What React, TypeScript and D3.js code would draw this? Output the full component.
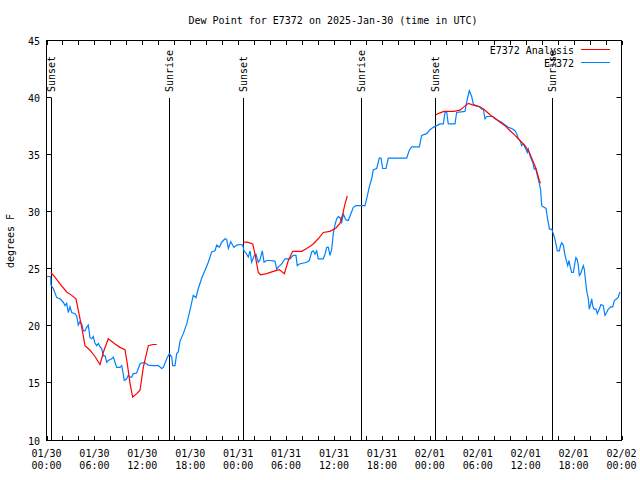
import React from "react";
import * as d3 from "d3";

// Hours since 2025-01-30 00:00 UTC
const xTickHours = [0, 6, 12, 18, 24, 30, 36, 42, 48, 54, 60, 66, 72];
const xTickDates = ["01/30", "01/30", "01/30", "01/30", "01/31", "01/31", "01/31", "01/31", "02/01", "02/01", "02/01", "02/01", "02/02"];
const xTickTimes = ["00:00", "06:00", "12:00", "18:00", "00:00", "06:00", "12:00", "18:00", "00:00", "06:00", "12:00", "18:00", "00:00"];
const yTicks = [10, 15, 20, 25, 30, 35, 40, 45];

const sunsetHours = [0.53, 24.64, 48.69];
const sunriseHours = [15.38, 39.34, 63.34];

// Analysis (red), three separate segments
const analysisSeg1: [number, number][] = [
  [0.53, 24.7], [1.06, 24.3], [1.69, 23.7], [2.53, 23.0], [3.16, 22.7], [3.69, 22.4],
  [3.98, 21.4], [4.41, 19.9], [4.82, 18.3], [5.45, 17.9], [6.07, 17.35], [6.7, 16.65],
  [7.2, 17.9], [7.74, 18.9], [8.58, 18.45], [9.2, 18.15], [9.83, 17.95], [10.12, 16.7],
  [10.46, 15.0], [10.79, 13.8], [11.3, 14.1], [11.71, 14.4], [12.12, 16.4], [12.75, 18.3],
  [13.3, 18.4], [13.8, 18.4],
];
const analysisSeg2: [number, number][] = [
  [24.64, 27.35], [25.14, 27.35], [25.82, 27.2], [26.11, 26.3], [26.52, 24.7], [26.82, 24.5],
  [27.57, 24.6], [28.4, 24.8], [29.15, 24.95], [29.78, 24.6], [30.28, 25.75], [30.83, 26.55],
  [31.96, 26.55], [32.58, 26.8], [33.33, 27.15], [34.03, 27.65], [34.66, 28.2], [35.5, 28.3],
  [36.25, 28.6], [36.75, 29.0], [37.09, 29.8], [37.38, 30.7], [37.67, 31.4],
];
const analysisSeg3: [number, number][] = [
  [48.77, 38.5], [49.19, 38.65], [49.77, 38.8], [51.03, 38.8], [51.78, 38.9], [52.19, 39.15],
  [52.82, 39.5], [53.44, 39.35], [54.28, 39.2], [54.91, 38.9], [55.53, 38.5], [56.16, 38.2],
  [56.79, 37.85], [57.41, 37.55], [58.04, 37.1], [58.67, 36.7], [59.29, 36.25], [59.92, 35.8],
  [60.46, 35.2], [60.88, 34.5], [61.29, 33.8], [61.71, 32.75], [61.86, 32.5],
];

// Observations (blue)
const obsHours = [
  0.03, 0.53, 0.56, 0.85, 1.28, 1.69, 2.1, 2.32, 2.53, 2.73, 2.94, 3.16, 3.57, 3.78, 3.98, 4.19,
  4.41, 4.61, 4.82, 5.03, 5.23, 5.45, 5.66, 5.86, 6.07, 6.29, 6.49, 6.7, 6.91, 7.11, 7.33, 7.54,
  7.74, 8.16, 8.36, 8.58, 8.79, 9.2, 9.42, 9.54, 9.74, 10.04, 10.24, 10.46, 10.67, 10.87, 11.29,
  11.71, 11.92, 12.33, 12.75, 13.37, 14.0, 14.43, 14.63, 15.05, 15.38, 15.68, 15.8, 16.09, 16.3,
  16.5, 16.72, 17.13, 17.56, 17.97, 18.38, 18.72, 19.01, 19.43, 19.85, 20.26, 20.69, 21.1, 21.31,
  21.64, 21.94, 22.35, 22.56, 22.77, 23.07, 23.23, 23.48, 23.82, 24.23, 24.57, 24.73, 24.98, 25.27,
  25.48, 25.69, 26.02, 26.23, 26.52, 26.73, 27.02, 27.24, 27.57, 27.99, 28.61, 28.83, 29.03, 29.45,
  29.87, 30.49, 30.9, 31.24, 31.4, 31.66, 32.58, 32.91, 33.21, 33.41, 33.62, 33.83, 34.03, 34.66,
  34.87, 35.09, 35.29, 35.5, 35.71, 35.91, 36.13, 36.34, 36.54, 36.75, 36.96, 37.17, 37.5, 37.79,
  38.09, 38.42, 38.76, 39.88, 40.09, 40.42, 40.72, 40.92, 41.35, 41.67, 41.89, 42.1, 42.51, 42.8,
  45.1, 45.43, 45.73, 46.68, 46.98, 47.61, 48.02, 48.43, 48.86, 49.27, 49.69, 49.9, 50.11, 50.31,
  51.15, 51.36, 52.4, 52.61, 52.94, 53.24, 53.44, 53.78, 54.19, 54.5, 54.7, 54.91, 55.12, 55.87,
  56.16, 56.57, 57.0, 57.41, 57.83, 58.25, 58.67, 58.88, 59.08, 59.29, 59.5, 59.7, 59.92, 60.21,
  60.33, 60.54, 60.88, 61.08, 61.26, 61.51, 61.67, 61.79, 61.88, 62.01, 62.3, 62.55, 62.71, 62.93,
  62.96, 63.26, 63.46, 63.67, 63.88, 63.96, 64.21, 64.38, 64.51, 64.71, 64.93, 65.14, 65.26, 65.43,
  65.55, 65.76, 65.97, 66.18, 66.3, 66.47, 66.59, 66.72, 66.89, 67.02, 67.22, 67.34, 67.52, 67.64,
  67.84, 67.97, 68.14, 68.27, 68.39, 68.56, 68.81, 68.97, 69.22, 69.43, 69.72, 69.93, 70.14, 70.35,
  70.65, 70.9, 71.1, 71.4, 71.6, 71.73, 71.82,
];
const obsDew = [
  24.35, 24.35, 23.6, 23.3, 22.5, 22.4, 22.1, 21.8, 22.0, 21.2, 21.7, 21.2, 21.1, 20.9, 20.1, 20.4,
  20.2, 19.6, 19.6, 19.9, 20.1, 19.0, 18.9, 19.1, 18.5, 18.3, 18.5, 18.2, 18.05, 17.4, 17.4, 16.85,
  17.0, 17.15, 17.3, 16.85, 16.4, 16.4, 16.55, 16.1, 15.25, 15.4, 15.7, 15.55, 15.55, 15.85, 15.9,
  16.7, 16.8, 16.8, 16.6, 16.55, 16.55, 16.3, 16.4, 17.15, 17.6, 17.3, 16.55, 16.55, 17.6,
  17.75, 18.7, 19.35, 20.2, 21.4, 22.7, 22.5, 23.3, 24.2, 24.9, 25.6, 26.5, 26.6, 27.1,
  26.9, 27.35, 27.65, 27.6, 26.8, 27.4, 27.2, 26.9, 27.1, 27.15, 27.1, 26.6, 26.4, 26.05,
  26.6, 25.6, 26.2, 26.3, 25.6, 25.8, 26.6, 25.6, 25.75, 25.75, 25.7, 25.0, 25.2, 25.45,
  25.9, 25.9, 26.2, 26.2, 25.3, 25.45, 25.6, 25.75, 26.5, 26.6, 26.3, 26.6, 25.9, 25.9,
  26.3, 26.9, 26.9, 26.2, 26.7, 28.1, 28.9, 29.4, 29.6, 29.5, 29.1, 29.8, 29.3, 29.25,
  29.8, 30.4, 30.55, 30.55, 31.15, 32.2, 32.9, 33.7, 33.8, 34.7, 34.7, 33.8, 33.8, 34.7,
  34.7, 35.4, 35.7, 35.7, 36.7, 36.85, 37.2, 37.4, 37.55, 37.7, 37.7, 38.7, 38.75, 37.7,
  37.7, 38.7, 38.8, 39.6, 40.6, 40.1, 39.45, 39.3, 39.2, 39.0, 39.0, 38.15, 38.35, 38.35,
  38.15, 38.0, 37.85, 37.6, 37.4, 37.3, 37.1, 36.85, 36.4, 36.25, 35.8, 35.95, 35.65, 35.2,
  35.5, 34.9, 34.35, 33.75, 33.8, 33.05, 32.6, 32.2, 31.9, 30.55, 30.4, 30.3, 29.55, 28.7,
  28.5, 28.5, 28.1, 27.6, 26.9, 26.6, 26.6, 27.1, 27.3, 27.1, 26.2, 25.6, 25.3, 25.75,
  25.3, 24.7, 24.7, 25.6, 26.0, 25.8, 25.3, 24.45, 24.6, 24.9, 25.3, 25.0, 23.85, 23.1,
  22.4, 21.5, 21.95, 22.4, 21.8, 21.5, 21.5, 21.1, 21.5, 21.9, 21.8, 20.95, 21.2, 21.5,
  21.7, 21.7, 22.25, 22.4, 22.55, 22.85, 23.0,
];

const FONT = "'DejaVu Sans Mono', 'Liberation Mono', monospace";
const RED = "#ff0000";
const BLUE = "#0080ff";

export default function App() {
  const W = 640, H = 480;
  const x = d3.scaleLinear().domain([0, 72]).range([46.5, 621.5]);
  const y = d3.scaleLinear().domain([10, 45]).range([440.5, 40.5]);
  const minorHours = d3.range(0, 73, 2);

  const line = d3
    .line<[number, number]>()
    .x((d) => x(d[0]))
    .y((d) => y(d[1]));

  const obs: [number, number][] = obsHours.map((h, i) => [h, obsDew[i]]);
  const eventTop = 98;
  const fontSize = 10;

  return (
    <svg width={W} height={H} style={{ position: "absolute", left: 0, top: 0, background: "#fff" }}>
      <rect x={0} y={0} width={W} height={H} fill="#fff" />
      <text x={333} y={24} textAnchor="middle" fontFamily={FONT} fontSize={fontSize} fill="#000">
        Dew Point for E7372 on 2025-Jan-30 (time in UTC)
      </text>
      <text
        transform={`translate(14,241) rotate(-90)`}
        textAnchor="middle"
        fontFamily={FONT}
        fontSize={fontSize}
        fill="#000"
      >
        degrees F
      </text>

      {/* y ticks */}
      {yTicks.map((v) => (
        <g key={"y" + v}>
          <line x1={x(0)} x2={x(0) + 5} y1={Math.round(y(v)) - 0.5} y2={Math.round(y(v)) - 0.5} stroke="#000" />
          <line x1={x(72)} x2={x(72) - 5} y1={Math.round(y(v)) - 0.5} y2={Math.round(y(v)) - 0.5} stroke="#000" />
          <text x={40} y={y(v) + 4} textAnchor="end" fontFamily={FONT} fontSize={fontSize} fill="#000">
            {v}
          </text>
        </g>
      ))}

      {/* x ticks */}
      {minorHours.map((h) => (
        <g key={"m" + h}>
          <line x1={Math.round(x(h)) + 0.5} x2={Math.round(x(h)) + 0.5} y1={440} y2={436} stroke="#000" />
          <line x1={Math.round(x(h)) + 0.5} x2={Math.round(x(h)) + 0.5} y1={41} y2={45} stroke="#000" />
        </g>
      ))}
      {xTickHours.map((h, i) => (
        <g key={"x" + h}>
          <text x={x(h)} y={457} textAnchor="middle" fontFamily={FONT} fontSize={fontSize} fill="#000">
            {xTickDates[i]}
          </text>
          <text x={x(h)} y={469} textAnchor="middle" fontFamily={FONT} fontSize={fontSize} fill="#000">
            {xTickTimes[i]}
          </text>
        </g>
      ))}

      {/* sunrise / sunset */}
      {sunsetHours.map((h) => (
        <g key={"ss" + h}>
          <line x1={Math.round(x(h)) + 0.5} x2={Math.round(x(h)) + 0.5} y1={eventTop} y2={440} stroke="#000" />
          <text
            transform={`translate(${Math.round(x(h)) + 4},92) rotate(-90)`}
            fontFamily={FONT}
            fontSize={fontSize}
            fill="#000"
          >
            Sunset
          </text>
        </g>
      ))}
      {sunriseHours.map((h) => (
        <g key={"sr" + h}>
          <line x1={Math.round(x(h)) + 0.5} x2={Math.round(x(h)) + 0.5} y1={eventTop} y2={440} stroke="#000" />
          <text
            transform={`translate(${Math.round(x(h)) + 4},92) rotate(-90)`}
            fontFamily={FONT}
            fontSize={fontSize}
            fill="#000"
          >
            Sunrise
          </text>
        </g>
      ))}

      {/* frame */}
      <rect x={x(0)} y={y(45)} width={x(72) - x(0)} height={y(10) - y(45)} fill="none" stroke="#000" />

      {/* series */}
      <path d={line(obs) ?? ""} fill="none" stroke={BLUE} strokeWidth={1.2} />
      {[analysisSeg1, analysisSeg2, analysisSeg3].map((seg, i) => (
        <path key={"a" + i} d={line(seg) ?? ""} fill="none" stroke={RED} strokeWidth={1.2} />
      ))}

      {/* legend */}
      <text x={574} y={53.5} textAnchor="end" fontFamily={FONT} fontSize={fontSize} fill="#000">
        E7372 Analysis
      </text>
      <line x1={581} x2={610} y1={49.5} y2={49.5} stroke={RED} />
      <text x={574} y={66.5} textAnchor="end" fontFamily={FONT} fontSize={fontSize} fill="#000">
        E7372
      </text>
      <line x1={581} x2={610} y1={62.5} y2={62.5} stroke={BLUE} />
    </svg>
  );
}
